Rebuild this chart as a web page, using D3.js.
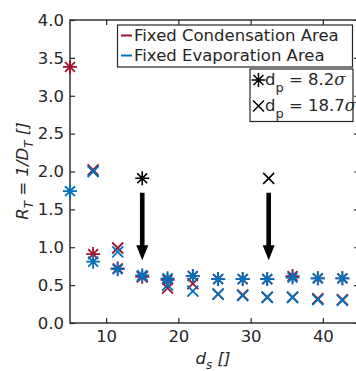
<!DOCTYPE html>
<html>
<head>
<meta charset="utf-8">
<script src="https://cdn.jsdelivr.net/npm/d3@7"></script>
<style>
  body { margin: 0; background: #fff; }
  svg text { font-family: "DejaVu Sans", sans-serif; fill: #262626; }
</style>
</head>
<body>
<div id="chart"></div>
<script>
// data
const dsStar = [5, 8.2, 11.6, 15.0, 18.5, 22.0, 25.5, 28.9, 32.3, 35.8, 39.3, 42.7];
const condStar = [3.38, 0.91, 0.72, 0.61, 0.57, 0.62, 0.58, 0.58, 0.58, 0.62, 0.59, 0.59];
const evapStar = [1.74, 0.81, 0.71, 0.63, 0.59, 0.62, 0.58, 0.58, 0.58, 0.60, 0.59, 0.59];
const dsX = [8.2, 11.6, 15.0, 18.5, 22.0, 25.5, 28.9, 32.3, 35.8, 39.3, 42.7];
const condX = [2.02, 0.99, 0.61, 0.46, 0.52, 0.38, 0.37, 0.34, 0.34, 0.32, 0.31];
const evapX = [2.00, 0.94, 0.62, 0.50, 0.42, 0.38, 0.36, 0.34, 0.34, 0.31, 0.30];
const xTicks = [10, 20, 30, 40];
const yTicks = [0, 0.5, 1, 1.5, 2, 2.5, 3, 3.5, 4];
const arrowX = [15, 32.5];
const arrowTop = 1.72, arrowTip = 0.83;
const markNames = ['star', 'x'];
const markY = 1.91;
const seriesNames = ['Fixed Condensation Area', 'Fixed Evaporation Area'];

const red = '#A2142F', blue = '#0072BD', ink = '#262626';

const W = 356, H = 371;
const margin = { top: 20, right: -3, bottom: 48, left: 70 };
const width = W - margin.left - margin.right;
const height = H - margin.top - margin.bottom;

const svg = d3.select('#chart').append('svg')
  .attr('width', W).attr('height', H);

const chart = svg.append('g')
  .attr('transform', `translate(${margin.left},${margin.top})`);

const x = d3.scaleLinear().domain([5, 45]).range([0, width]);
const y = d3.scaleLinear().domain([0, 4]).range([height, 0]);

// axes, ticks pointing in
const fmt = d3.format('.1f');
chart.append('g')
  .attr('transform', `translate(0,${height})`)
  .call(d3.axisBottom(x).tickValues(xTicks).tickSizeInner(-5).tickSizeOuter(0).tickPadding(7));
chart.append('g')
  .call(d3.axisLeft(y).tickValues(yTicks).tickFormat(fmt).tickSizeInner(-5).tickSizeOuter(0).tickPadding(6));
chart.append('g')
  .call(d3.axisTop(x).tickValues(xTicks).tickFormat('').tickSizeInner(-5).tickSizeOuter(0));
chart.append('g')
  .attr('transform', `translate(${width},0)`)
  .call(d3.axisRight(y).tickValues(yTicks).tickFormat('').tickSizeInner(-5).tickSizeOuter(0));

chart.selectAll('.domain').remove();
chart.selectAll('.tick line').attr('stroke', ink).attr('stroke-width', 1.2);
chart.selectAll('.tick text').style('font-size', '16.5px').attr('fill', ink);

chart.append('rect')
  .attr('width', width).attr('height', height)
  .attr('fill', 'none').attr('stroke', ink).attr('stroke-width', 1.4);

// marker paths
function starPath(r) {
  const d = r * Math.SQRT1_2;
  return `M${-r},0L${r},0M0,${-r}L0,${r}M${-d},${-d}L${d},${d}M${-d},${d}L${d},${-d}`;
}
function xPath(r) {
  return `M${-r},${-r}L${r},${r}M${-r},${r}L${r},${-r}`;
}

function drawSeries(xs, ys, kind, color) {
  const pts = xs.map((v, i) => [v, ys[i]]);
  chart.append('g').selectAll('path')
    .data(pts)
    .enter()
    .append('path')
    .attr('transform', d => `translate(${x(d[0])},${y(d[1])})`)
    .attr('d', kind === 'star' ? starPath(7) : xPath(5.5))
    .attr('fill', 'none')
    .attr('stroke', color)
    .attr('stroke-width', 1.8);
}

drawSeries(dsStar, condStar, 'star', red);
drawSeries(dsX, condX, 'x', red);
drawSeries(dsStar, evapStar, 'star', blue);
drawSeries(dsX, evapX, 'x', blue);

// black markers and arrows
chart.append('g').selectAll('path')
  .data(arrowX.map((v, i) => [v, markNames[i]]))
  .enter()
  .append('path')
  .attr('transform', d => `translate(${x(d[0])},${y(markY)})`)
  .attr('d', d => d[1] === 'star' ? starPath(7) : xPath(5.5))
  .attr('fill', 'none').attr('stroke', '#000').attr('stroke-width', 1.6);

function arrowPath(xv) {
  const cx = x(xv), t = y(arrowTop), tip = y(arrowTip);
  const hl = 15, hw = 6, sw = 2.3;
  const b = tip - hl;
  return `M${cx - sw},${t}L${cx + sw},${t}L${cx + sw},${b}L${cx + hw},${b}L${cx},${tip}L${cx - hw},${b}L${cx - sw},${b}Z`;
}
chart.append('g').selectAll('path')
  .data(arrowX)
  .enter()
  .append('path')
  .attr('d', d => arrowPath(d))
  .attr('fill', '#000');

// axis labels
svg.append('text')
  .attr('transform', 'translate(28,171) rotate(-90)')
  .attr('text-anchor', 'middle')
  .style('font-size', '16.5px').style('font-style', 'italic')
  .call(t => {
    t.append('tspan').text('R');
    t.append('tspan').attr('dy', 5).style('font-size', '12px').text('T');
    t.append('tspan').attr('dy', -5).text(' = 1/D');
    t.append('tspan').attr('dy', 5).style('font-size', '12px').text('T');
    t.append('tspan').attr('dy', -5).text(' []');
  });

svg.append('text')
  .attr('x', 213).attr('y', 364)
  .attr('text-anchor', 'middle')
  .style('font-size', '16.5px').style('font-style', 'italic')
  .call(t => {
    t.append('tspan').text('d');
    t.append('tspan').attr('dy', 4.5).style('font-size', '12px').text('s');
    t.append('tspan').attr('dy', -4.5).text(' []');
  });

// legend 1: series colours
const leg1 = svg.append('g');
leg1.append('rect')
  .attr('x', 117.5).attr('y', 25).attr('width', 235).attr('height', 42)
  .attr('fill', '#fff').attr('stroke', ink).attr('stroke-width', 1.2);
seriesNames.forEach((name, i) => {
  const yy = 35.5 + i * 20;
  leg1.append('line')
    .attr('x1', 121).attr('x2', 132).attr('y1', yy).attr('y2', yy)
    .attr('stroke', i === 0 ? red : blue).attr('stroke-width', 2);
  leg1.append('text')
    .attr('x', 134).attr('y', yy + 5.8)
    .style('font-size', '16.5px')
    .text(name);
});

// legend 2: marker meaning
const dpVals = ['8.2', '18.7'];
const leg2 = svg.append('g');
leg2.append('rect')
  .attr('x', 250).attr('y', 69).attr('width', 103).attr('height', 52.5)
  .attr('fill', '#fff').attr('stroke', ink).attr('stroke-width', 1.2);
dpVals.forEach((v, i) => {
  const yy = 80 + i * 26;
  leg2.append('path')
    .attr('transform', `translate(258.5,${yy})`)
    .attr('d', i === 0 ? starPath(7) : xPath(5.5))
    .attr('fill', 'none').attr('stroke', '#000').attr('stroke-width', 1.5);
  const t = leg2.append('text')
    .attr('x', 265).attr('y', yy + 5)
    .style('font-size', '16.5px');
  t.append('tspan').text('d');
  t.append('tspan').attr('dy', 7).style('font-size', '13px').text('p');
  t.append('tspan').attr('dy', -7).text(` = ${v}`);
  t.append('tspan').style('font-style', 'italic').style('font-family', '"DejaVu Serif", serif').text('σ');
});
</script>
</body>
</html>
